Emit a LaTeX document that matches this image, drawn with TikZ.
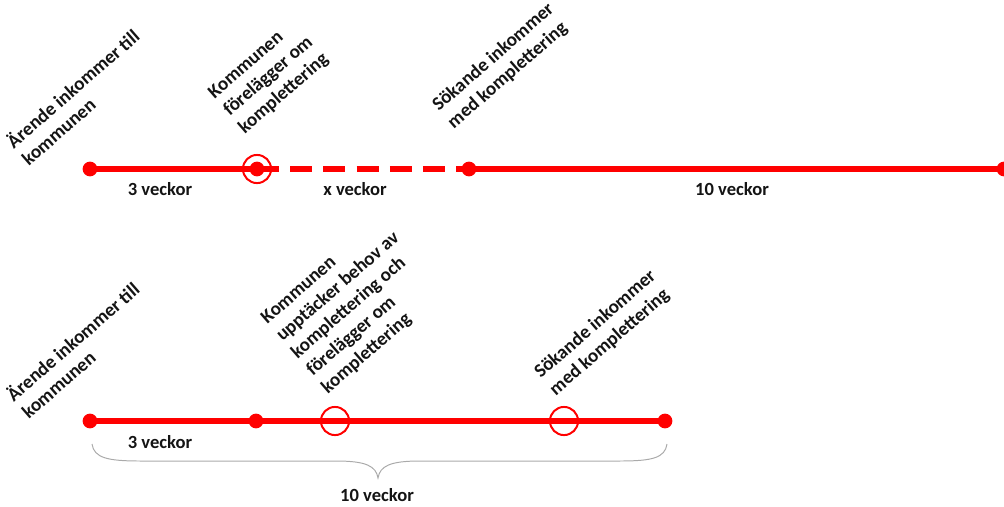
\documentclass[tikz,border=0pt]{standalone}
\usepackage{fontspec}
\setmainfont{Carlito}
\usetikzlibrary{positioning}
\definecolor{bracegray}{RGB}{170,170,170}
\definecolor{textblack}{RGB}{20,20,20}
\begin{document}
\begin{tikzpicture}[x=0.025cm, y=-0.025cm,
        dot/.style = {circle, fill=red, inner sep=0pt, minimum size=10.5pt},
        ring/.style = {circle, draw=red, line width=1.4pt, inner sep=0pt, minimum size=20pt},
        timeline/.style = {red, line width=4.3pt},
        event/.style = {rotate=41, anchor=south west, align=left, inner sep=0pt, text=textblack,
            font=\fontsize{13.6}{16.4}\selectfont\bfseries},
        weeks/.style = {text=textblack, font=\fontsize{13.2}{15.8}\selectfont\bfseries}]
    \useasboundingbox (0,0) rectangle (1004,506);
    \node[dot] (a1) at (90,169) {};
    \node[dot] (a2) at (257,169) {};
    \node[dot] (a3) at (469,169) {};
    \node[dot] (a4) at (1004,169) {};
    \node[ring] (ra) at (a2) {};
    \draw[style = timeline] (a1.center) -- (a2.center);
    \draw[style = timeline, dash pattern=on 15.6pt off 8pt] (a2.center) -- (a3.center);
    \draw[style = timeline] (a3.center) -- (a4.center);
    \node[weeks] (wa1) at (160,189) {3 veckor};
    \node[weeks] (wa2) at (355,189) {x veckor};
    \node[weeks] (wa3) at (732,189) {10 veckor};
    \node[event] (ea1) at (29,167) {Ärende inkommer till\\kommunen};
    \node[event] (ea2) at (247,137) {Kommunen\\förelägger om\\komplettering};
    \node[event] (ea3) at (456,132) {Sökande inkommer\\med komplettering};
    \node[dot] (b1) at (90,421) {};
    \node[dot] (b2) at (256,421) {};
    \node[dot] (b3) at (665,421) {};
    \node[ring] (rb1) at (335,421) {};
    \node[ring] (rb2) at (564,421) {};
    \draw[style = timeline] (b1.center) -- (b2.center) -- (b3.center);
    \node[weeks] (wb1) at (160,442) {3 veckor};
    \node[weeks] (wb2) at (377,495) {10 veckor};
    \node[event] (eb1) at (29,420) {Ärende inkommer till\\kommunen};
    \node[event] (eb2) at (330,397) {Kommunen\\upptäcker behov av\\komplettering och\\förelägger om\\komplettering};
    \node[event] (eb3) at (558,399) {Sökande inkommer\\med komplettering};
    \coordinate (bl) at (92,444);
    \coordinate (bt) at (378,478);
    \coordinate (br) at (667,444);
    \draw[bracegray, line width=0.7pt] (bl) .. controls (94,458) and (108,461) .. (140,461)
        -- (336,461) .. controls (366,461) and (376,466) .. (bt)
        .. controls (380,466) and (390,461) .. (420,461)
        -- (620,461) .. controls (652,461) and (665,458) .. (br);
\end{tikzpicture}
\end{document}
